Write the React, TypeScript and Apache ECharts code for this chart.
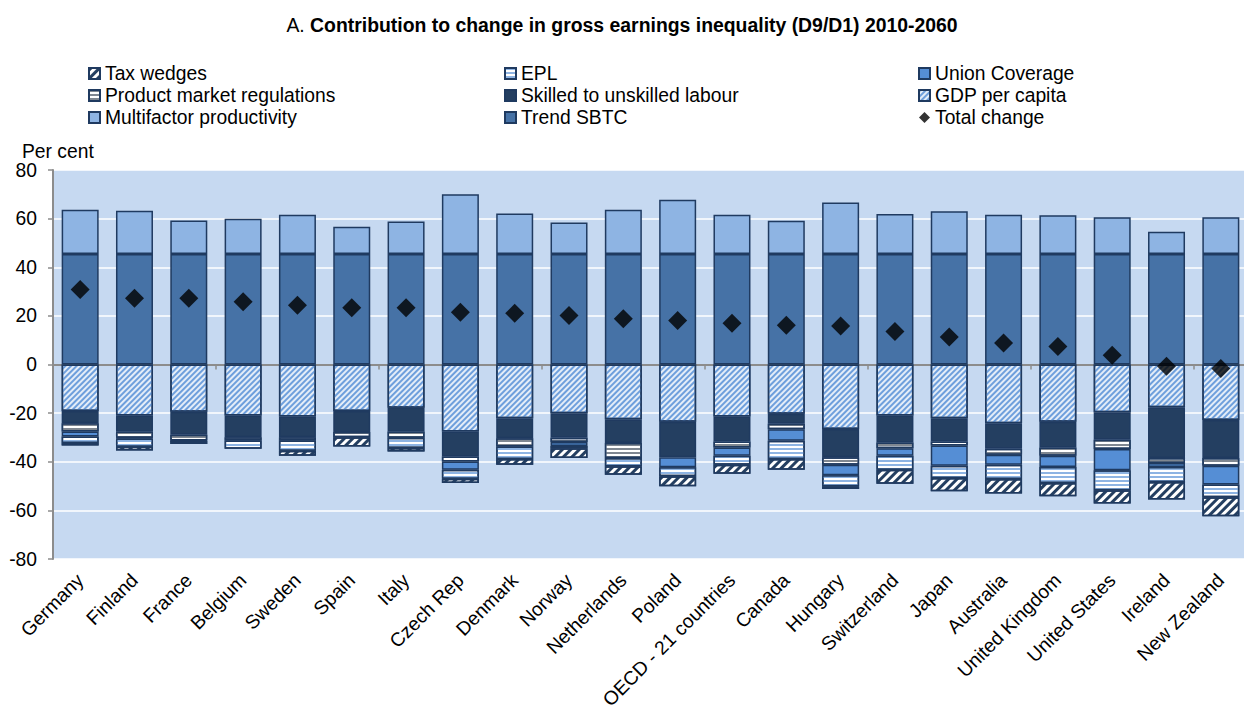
import React, { useEffect, useRef } from "react";
import * as echarts from "echarts";

const categories = [
  "Germany", "Finland", "France", "Belgium", "Sweden", "Spain", "Italy", "Czech Rep",
  "Denmark", "Norway", "Netherlands", "Poland", "OECD - 21 countries", "Canada", "Hungary",
  "Switzerland", "Japan", "Australia", "United Kingdom", "United States", "Ireland", "New Zealand",
];

const trendSBTC = [45.4, 45.4, 45.4, 45.4, 45.4, 45.4, 45.4, 45.4, 45.4, 45.4, 45.4, 45.4, 45.4, 45.4, 45.4, 45.4, 45.4, 45.4, 45.4, 45.4, 45.4, 45.4];
const multifactor = [18.2, 17.8, 13.8, 14.6, 16.2, 11.3, 13.4, 24.6, 16.7, 13.0, 18.3, 22.4, 16.2, 13.7, 21.2, 16.5, 17.6, 16.2, 16.0, 15.2, 9.2, 15.2];
const gdpPerCapita = [-19.1, -21.0, -19.4, -21.0, -21.4, -19.1, -17.8, -27.6, -22.1, -20.1, -22.5, -23.5, -21.4, -20.3, -26.5, -21.0, -22.1, -24.2, -23.5, -19.6, -17.6, -22.8];
const skilledLabour = [-5.1, -6.6, -9.5, -8.9, -8.5, -8.7, -9.8, -10.2, -8.2, -10.0, -9.8, -14.7, -10.3, -4.1, -11.6, -11.1, -9.6, -10.5, -10.6, -11.4, -20.9, -15.7];
const productMarket = [-3.4, -2.5, -2.4, -1.4, -1.4, -2.1, -2.5, -2.1, -3.4, -1.8, -6.2, 0, -2.4, -2.2, -3.1, -2.3, -1.6, -2.4, -3.4, -3.8, -2.0, -3.1];
const unionCoverage = [-2.0, -0.3, 0, 0, 0, 0, 0, -3.4, 0, -1.6, 0, -4.1, -3.4, -4.8, -4.4, -3.1, -8.3, -4.1, -4.7, -8.7, -1.7, -7.8];
const epl = [-2.7, -3.4, -0.2, -3.4, -4.2, 0, -4.2, -3.7, -5.2, -0.9, -3.4, -3.7, -3.7, -7.5, -4.5, -5.8, -5.1, -5.9, -6.5, -8.2, -6.1, -5.2];
const taxWedges = [-1.0, -1.6, -1.2, 0, -2.0, -3.8, -1.5, -1.7, -2.3, -4.1, -3.4, -4.1, -3.7, -4.4, -1.1, -5.7, -5.4, -6.0, -5.5, -5.5, -7.2, -7.8];
const totalChange = [30.8, 27.3, 27.3, 25.8, 24.4, 23.3, 23.3, 21.5, 21.1, 20.2, 18.8, 18.1, 17.0, 16.1, 15.8, 13.6, 11.3, 8.8, 7.4, 3.8, -0.7, -1.6];

const yTicks = { min: -80, max: 80, interval: 20 };

const FONT = "'Liberation Sans', Arial, sans-serif";
const FS = 19.3;
const BORDER = "#1F3A60";

const nz = (arr: number[]) => arr.map((v) => (v === 0 ? null : v));

function barSeries(name: string, data: number[], color: string, decal?: any) {
  return {
    name,
    type: "bar",
    stack: "total",
    xAxisIndex: 0,
    barWidth: 37,
    data: nz(data),
    itemStyle: {
      color,
      borderColor: BORDER,
      borderWidth: 1.5,
      decal: decal || undefined,
    },
  };
}

const diagDecal = (color: string, gap: number) => ({
  symbol: "rect",
  symbolSize: 1,
  dashArrayX: [1, 0],
  dashArrayY: [gap, gap],
  rotation: -Math.PI / 4,
  color,
});
const horizDecal = (color: string) => ({
  symbol: "rect",
  symbolSize: 1,
  dashArrayX: [1, 0],
  dashArrayY: [2, 2],
  rotation: 0,
  color,
});

export default function App() {
  const ref = useRef<HTMLDivElement>(null);
  useEffect(() => {
    document.body.style.margin = "0";
    const chart = echarts.init(ref.current!, undefined, { renderer: "svg" });
    const legendBase = {
      orient: "vertical",
      top: 64,
      itemWidth: 11,
      itemHeight: 11,
      itemGap: 3,
      padding: 0,
      selectedMode: false,
      textStyle: { fontSize: FS, fontFamily: FONT, color: "#000" },
    };
    chart.setOption({
      animation: false,
      backgroundColor: "#fff",
      title: {
        left: "center",
        top: 10,
        text: "{n|A. }{b|Contribution to change in gross earnings inequality (D9/D1) 2010-2060}",
        textStyle: {
          rich: {
            n: { fontSize: 19.4, fontFamily: FONT, fontWeight: "normal", color: "#000" },
            b: { fontSize: 19.4, fontFamily: FONT, fontWeight: "bold", color: "#000" },
          },
        },
      },
      legend: [
        { ...legendBase, left: 88, data: [{ name: "Tax wedges", icon: "rect" }, { name: "Product market regulations", icon: "rect" }, { name: "Multifactor productivity", icon: "rect" }] },
        { ...legendBase, left: 504, data: [{ name: "EPL", icon: "rect" }, { name: "Skilled to unskilled labour", icon: "rect" }, { name: "Trend SBTC", icon: "rect" }] },
        { ...legendBase, left: 918, data: [{ name: "Union Coverage", icon: "rect" }, { name: "GDP per capita", icon: "rect" }, { name: "Total change", icon: "diamond" }] },
      ],
      graphic: [
        {
          type: "text",
          left: 22,
          top: 142,
          style: { text: "Per cent", fontSize: FS, fontFamily: FONT, fill: "#000" },
        },
      ],
      grid: {
        left: 53,
        top: 170,
        width: 1195,
        height: 389,
        show: true,
        backgroundColor: "#C6D9F1",
        borderWidth: 0,
        containLabel: false,
        outerBoundsMode: "none",
      },
      xAxis: [
        {
          type: "category",
          data: categories,
          position: "bottom",
          axisLine: { show: false, onZero: false },
          axisTick: { show: false },
          axisLabel: {
            rotate: 45,
            margin: 18,
            interval: 0,
            fontSize: FS,
            fontFamily: FONT,
            color: "#000",
          },
        },
        {
          type: "category",
          data: categories,
          position: "bottom",
          axisLine: { show: true, onZero: true, lineStyle: { color: "#8C8C8C", width: 2 } },
          axisTick: { show: true, inside: false, length: 5, lineStyle: { color: "#8C8C8C", width: 1.5 } },
          axisLabel: { show: false },
        },
      ],
      yAxis: {
        type: "value",
        min: yTicks.min,
        max: yTicks.max,
        interval: yTicks.interval,
        axisLine: { show: true, lineStyle: { color: "#8C8C8C", width: 2 } },
        axisTick: { show: true, length: 5, lineStyle: { color: "#8C8C8C", width: 1.5 } },
        axisLabel: { fontSize: FS, fontFamily: FONT, color: "#000", margin: 16 },
        splitLine: { show: true, lineStyle: { color: "#FFFFFF", width: 1.5 } },
      },
      series: [
        barSeries("Trend SBTC", trendSBTC, "#4672A6"),
        barSeries("Multifactor productivity", multifactor, "#8EB4E3"),
        barSeries("GDP per capita", gdpPerCapita, "#E4EDF8", diagDecal("#6E9FDC", 2)),
        barSeries("Skilled to unskilled labour", skilledLabour, "#243F61"),
        barSeries("Product market regulations", productMarket, "#FFFFFF", horizDecal("#7F8791")),
        barSeries("Union Coverage", unionCoverage, "#558ED5"),
        barSeries("EPL", epl, "#FFFFFF", horizDecal("#8EB4E3")),
        barSeries("Tax wedges", taxWedges, "#FFFFFF", diagDecal("#243F61", 2.5)),
        {
          name: "Total change",
          type: "scatter",
          xAxisIndex: 0,
          symbol: "diamond",
          symbolSize: 19,
          z: 10,
          data: totalChange,
          itemStyle: { color: "#000" },
        },
      ],
    });
    return () => chart.dispose();
  }, []);
  return <div ref={ref} style={{ position: "fixed", left: 0, top: 0, width: 1244, height: 709 }} />;
}
